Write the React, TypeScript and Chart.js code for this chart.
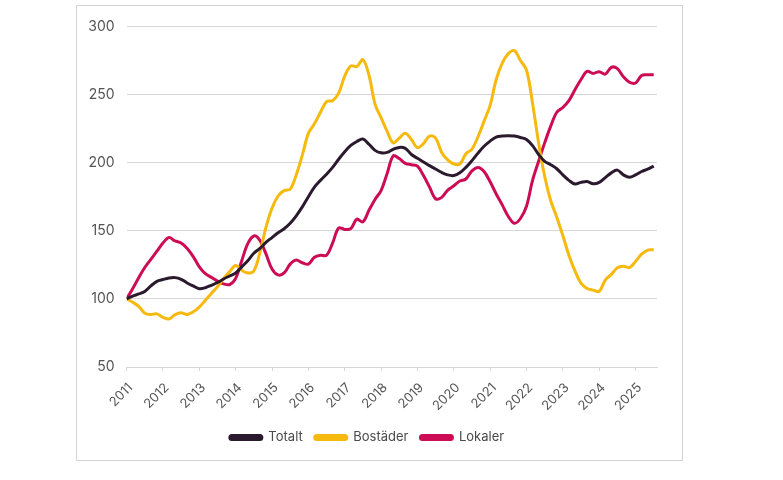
import React, { useEffect, useRef } from "react";
import { Chart, registerables } from "chart.js";

Chart.register(...registerables);

// Index values, one point every second month starting January 2011
const START_YEAR = 2011;
const MONTHS_PER_POINT = 2;
const X_MAX = 2025.59;

const yearTicks = [2011, 2012, 2013, 2014, 2015, 2016, 2017, 2018, 2019, 2020, 2021, 2022, 2023, 2024, 2025];
const seriesNames = ["Totalt", "Bostäder", "Lokaler"];

const totalt = [
  100, 102, 103.6, 105.5, 109.5, 112.9, 114.2, 115.3, 115.6, 114.4, 111.7, 109.5,
  107.5, 108.2, 110, 112, 114.6, 116.8, 119, 123.5, 128, 133.5, 137, 141.5,
  145, 148.5, 151.5, 155.5, 161, 167.5, 175, 182, 187, 191.5, 196.5, 202.5,
  208, 212.6, 215.5, 217.3, 213.5, 209, 207.2, 207.5, 209.8, 211.2, 210.5, 206,
  203.2, 200.5, 197.8, 195.3, 192.8, 191, 190.5, 192.5, 196.5, 201.5, 207, 212,
  215.8, 218.8, 219.5, 219.8, 219.5, 218.5, 217, 212.5, 206, 201, 198.5, 195.5,
  191, 187, 184.3, 185.5, 186.2, 184.5, 185.5, 189, 192.5, 194.5, 191, 189.2,
  191, 193.5, 195.2, 197.5,
];

const bostader = [
  100, 97.5, 94.5, 89.5, 88.5, 89, 86.5, 85.2, 88.5, 89.8, 88.6, 90.5,
  94, 99, 104, 109, 114.8, 120, 124.5, 121, 119, 120.5, 134, 152.5,
  166.5, 175.5, 179.5, 180.5, 191, 205.5, 221.5, 228.5, 237, 244.8, 245.5, 251,
  263.5, 271, 270.5, 275.5, 264.3, 243, 233, 223, 214.5, 218, 221.6, 217,
  211, 214, 219.5, 218, 207.5, 202, 199, 199, 206.5, 210, 219, 230.5,
  242, 261, 273, 280, 282.2, 275, 268, 243.5, 214.5, 190, 172, 160,
  146.5, 132, 120.5, 111.5, 107.6, 106.4, 105.5, 113.8, 118, 122.8, 124, 123,
  127.5, 132.8, 135.8, 136,
];

const lokaler = [
  100, 107.5, 115.5, 123, 129, 135, 141, 145, 142.5, 141, 137, 131,
  123.5, 118.5, 115.8, 113, 111, 110.5, 115, 128, 140.5, 146.2, 143, 133,
  122, 117.6, 119, 125.5, 128.5, 126.5, 125.5, 130.5, 132, 132, 141, 152,
  151, 151.5, 158.5, 156.5, 165, 173, 179.5, 192, 205, 203, 199.5, 198.5,
  197.5, 190.5, 182, 173.5, 174.5, 179.8, 183, 186.5, 188, 194, 196.5, 193.5,
  186, 177, 169, 160.5, 155.5, 159, 168, 187, 201, 214.5, 226.8, 237,
  240.5, 245.5, 253.5, 261, 267, 265.5, 266.8, 265, 270, 269, 263, 259,
  258.5, 264, 264.5, 264.5,
];

const colors = ["#2b1a2e", "#f6b90d", "#cc0c55"];

const toPoints = (vals: number[]) =>
  vals.map((v, i) => ({ x: START_YEAR + (i * MONTHS_PER_POINT) / 12, y: v }));

export default function App() {
  const canvasRef = useRef<HTMLCanvasElement | null>(null);

  useEffect(() => {
    if (!canvasRef.current) return;
    Chart.defaults.font.family = "Inter, 'Open Sans', sans-serif";
    const series = [totalt, bostader, lokaler];
    const chart = new Chart(canvasRef.current, {
      type: "line",
      data: {
        datasets: series.map((vals, i) => ({
          label: seriesNames[i],
          data: toPoints(vals),
          borderColor: colors[i],
          backgroundColor: colors[i],
          borderWidth: 3,
          pointRadius: 0,
          tension: 0.35,
          fill: false,
        })),
      },
      options: {
        animation: false,
        responsive: true,
        maintainAspectRatio: false,
        layout: { padding: { top: 16, right: 25, left: 0, bottom: 6 } },
        plugins: {
          tooltip: { enabled: false },
          legend: {
            position: "bottom",
            labels: {
              boxWidth: 32,
              boxHeight: 4,
              padding: 12,
              color: "#4a4a4a",
              font: { size: 13 },
              useBorderRadius: true,
              borderRadius: 2,
            },
          },
        },
        scales: {
          x: {
            type: "linear",
            min: START_YEAR,
            max: X_MAX,
            afterBuildTicks: (scale: any) => {
              scale.ticks = yearTicks.map((v) => ({ value: v }));
            },
            afterFit: (scale: any) => {
              scale.height = 52;
            },
            ticks: {
              autoSkip: false,
              maxRotation: 45,
              minRotation: 45,
              color: "#555555",
              font: { size: 13 },
              padding: 9,
              labelOffset: 4,
              callback: (v: any) => String(v),
            },
            grid: {
              drawOnChartArea: false,
              drawTicks: true,
              tickLength: 4,
              color: "#d6d6d6",
            },
            border: { color: "#d6d6d6" },
          },
          y: {
            min: 50,
            max: 300,
            afterFit: (scale: any) => {
              scale.width = 49.6;
            },
            ticks: {
              stepSize: 50,
              color: "#555555",
              font: { size: 14 },
              padding: 12,
            },
            grid: {
              color: "#d6d6d6",
              drawTicks: false,
            },
            border: { display: false },
          },
        },
      },
    });
    return () => chart.destroy();
  }, []);

  return (
    <div
      style={{
        position: "absolute",
        left: 76,
        top: 5,
        width: 607,
        height: 456,
        boxSizing: "border-box",
        border: "1px solid #d4d4d4",
        background: "#fff",
      }}
    >
      <div style={{ position: "relative", width: 605, height: 454 }}>
        <canvas ref={canvasRef} />
      </div>
    </div>
  );
}
